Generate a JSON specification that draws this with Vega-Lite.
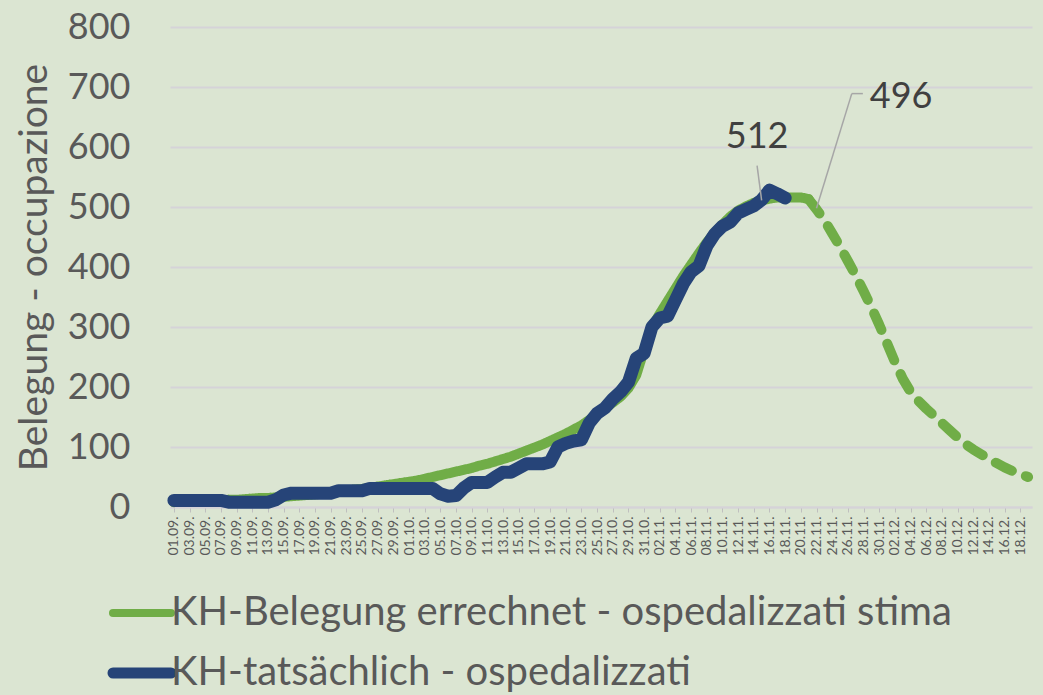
{
  "$schema": "https://vega.github.io/schema/vega-lite/v6.json",
  "autosize": {"type": "none"},
  "padding": {"left": 170, "top": 27, "right": 11, "bottom": 188},
  "width": 862,
  "height": 480,
  "background": "#dbe5d2",
  "config": {
    "font": "Lato",
    "view": {"stroke": null},
    "axis": {"labelFont": "Lato", "titleFont": "Lato"},
    "legend": {"labelFont": "Lato"}
  },
  "datasets": {
    "est": [
      {"d": "2020-09-01", "v": 8, "p": "a"}, {"d": "2020-09-02", "v": 9, "p": "a"}, {"d": "2020-09-03", "v": 9, "p": "a"}, {"d": "2020-09-04", "v": 10, "p": "a"}, {"d": "2020-09-05", "v": 10, "p": "a"},
      {"d": "2020-09-06", "v": 11, "p": "a"}, {"d": "2020-09-07", "v": 11, "p": "a"}, {"d": "2020-09-08", "v": 12, "p": "a"}, {"d": "2020-09-09", "v": 12, "p": "a"}, {"d": "2020-09-10", "v": 13, "p": "a"},
      {"d": "2020-09-11", "v": 14, "p": "a"}, {"d": "2020-09-12", "v": 15, "p": "a"}, {"d": "2020-09-13", "v": 15, "p": "a"}, {"d": "2020-09-14", "v": 16, "p": "a"}, {"d": "2020-09-15", "v": 17, "p": "a"},
      {"d": "2020-09-16", "v": 18, "p": "a"}, {"d": "2020-09-17", "v": 19, "p": "a"}, {"d": "2020-09-18", "v": 20, "p": "a"}, {"d": "2020-09-19", "v": 21, "p": "a"}, {"d": "2020-09-20", "v": 22, "p": "a"},
      {"d": "2020-09-21", "v": 24, "p": "a"}, {"d": "2020-09-22", "v": 25, "p": "a"}, {"d": "2020-09-23", "v": 27, "p": "a"}, {"d": "2020-09-24", "v": 29, "p": "a"}, {"d": "2020-09-25", "v": 30, "p": "a"},
      {"d": "2020-09-26", "v": 32, "p": "a"}, {"d": "2020-09-27", "v": 34, "p": "a"}, {"d": "2020-09-28", "v": 36, "p": "a"}, {"d": "2020-09-29", "v": 38, "p": "a"}, {"d": "2020-09-30", "v": 40, "p": "a"},
      {"d": "2020-10-01", "v": 42, "p": "a"}, {"d": "2020-10-02", "v": 44, "p": "a"}, {"d": "2020-10-03", "v": 47, "p": "a"}, {"d": "2020-10-04", "v": 50, "p": "a"}, {"d": "2020-10-05", "v": 53, "p": "a"},
      {"d": "2020-10-06", "v": 56, "p": "a"}, {"d": "2020-10-07", "v": 59, "p": "a"}, {"d": "2020-10-08", "v": 62, "p": "a"}, {"d": "2020-10-09", "v": 65, "p": "a"}, {"d": "2020-10-10", "v": 69, "p": "a"},
      {"d": "2020-10-11", "v": 72, "p": "a"}, {"d": "2020-10-12", "v": 76, "p": "a"}, {"d": "2020-10-13", "v": 80, "p": "a"}, {"d": "2020-10-14", "v": 84, "p": "a"}, {"d": "2020-10-15", "v": 89, "p": "a"},
      {"d": "2020-10-16", "v": 94, "p": "a"}, {"d": "2020-10-17", "v": 99, "p": "a"}, {"d": "2020-10-18", "v": 104, "p": "a"}, {"d": "2020-10-19", "v": 110, "p": "a"}, {"d": "2020-10-20", "v": 116, "p": "a"},
      {"d": "2020-10-21", "v": 122, "p": "a"}, {"d": "2020-10-22", "v": 129, "p": "a"}, {"d": "2020-10-23", "v": 136, "p": "a"}, {"d": "2020-10-24", "v": 145, "p": "a"}, {"d": "2020-10-25", "v": 154, "p": "a"},
      {"d": "2020-10-26", "v": 164, "p": "a"}, {"d": "2020-10-27", "v": 174, "p": "a"}, {"d": "2020-10-28", "v": 184, "p": "a"}, {"d": "2020-10-29", "v": 198, "p": "a"}, {"d": "2020-10-30", "v": 220, "p": "a"},
      {"d": "2020-10-31", "v": 262, "p": "a"}, {"d": "2020-11-01", "v": 300, "p": "a"}, {"d": "2020-11-02", "v": 322, "p": "a"}, {"d": "2020-11-03", "v": 343, "p": "a"}, {"d": "2020-11-04", "v": 364, "p": "a"},
      {"d": "2020-11-05", "v": 385, "p": "a"}, {"d": "2020-11-06", "v": 404, "p": "a"}, {"d": "2020-11-07", "v": 423, "p": "a"}, {"d": "2020-11-08", "v": 441, "p": "a"}, {"d": "2020-11-09", "v": 457, "p": "a"},
      {"d": "2020-11-10", "v": 471, "p": "a"}, {"d": "2020-11-11", "v": 484, "p": "a"}, {"d": "2020-11-12", "v": 494, "p": "a"}, {"d": "2020-11-13", "v": 501, "p": "a"}, {"d": "2020-11-14", "v": 507, "p": "a"},
      {"d": "2020-11-15", "v": 511, "p": "a"}, {"d": "2020-11-16", "v": 514, "p": "a"}, {"d": "2020-11-17", "v": 516, "p": "a"}, {"d": "2020-11-18", "v": 516, "p": "a"}, {"d": "2020-11-19", "v": 516, "p": "a"},
      {"d": "2020-11-20", "v": 516, "p": "a"}, {"d": "2020-11-21", "v": 513, "p": "a"},
      {"d": "2020-11-21", "v": 513, "p": "b"}, {"d": "2020-11-22", "v": 496, "p": "b"}, {"d": "2020-11-23", "v": 478, "p": "b"}, {"d": "2020-11-24", "v": 456, "p": "b"}, {"d": "2020-11-25", "v": 434, "p": "b"},
      {"d": "2020-11-26", "v": 410, "p": "b"}, {"d": "2020-11-27", "v": 386, "p": "b"}, {"d": "2020-11-28", "v": 360, "p": "b"}, {"d": "2020-11-29", "v": 333, "p": "b"}, {"d": "2020-11-30", "v": 304, "p": "b"},
      {"d": "2020-12-01", "v": 273, "p": "b"}, {"d": "2020-12-02", "v": 242, "p": "b"}, {"d": "2020-12-03", "v": 214, "p": "b"}, {"d": "2020-12-04", "v": 192, "p": "b"}, {"d": "2020-12-05", "v": 177, "p": "b"},
      {"d": "2020-12-06", "v": 164, "p": "b"}, {"d": "2020-12-07", "v": 152, "p": "b"}, {"d": "2020-12-08", "v": 140, "p": "b"}, {"d": "2020-12-09", "v": 128, "p": "b"}, {"d": "2020-12-10", "v": 116, "p": "b"},
      {"d": "2020-12-11", "v": 105, "p": "b"}, {"d": "2020-12-12", "v": 96, "p": "b"}, {"d": "2020-12-13", "v": 88, "p": "b"}, {"d": "2020-12-14", "v": 80, "p": "b"}, {"d": "2020-12-15", "v": 73, "p": "b"},
      {"d": "2020-12-16", "v": 66, "p": "b"}, {"d": "2020-12-17", "v": 60, "p": "b"}, {"d": "2020-12-18", "v": 55, "p": "b"}, {"d": "2020-12-19", "v": 50, "p": "b"}
    ],
    "act": [
      {"d": "2020-09-01", "v": 11}, {"d": "2020-09-02", "v": 11}, {"d": "2020-09-03", "v": 11}, {"d": "2020-09-04", "v": 11}, {"d": "2020-09-05", "v": 11},
      {"d": "2020-09-06", "v": 11}, {"d": "2020-09-07", "v": 11}, {"d": "2020-09-08", "v": 8}, {"d": "2020-09-09", "v": 8}, {"d": "2020-09-10", "v": 8},
      {"d": "2020-09-11", "v": 8}, {"d": "2020-09-12", "v": 8}, {"d": "2020-09-13", "v": 8}, {"d": "2020-09-14", "v": 12}, {"d": "2020-09-15", "v": 20},
      {"d": "2020-09-16", "v": 23}, {"d": "2020-09-17", "v": 23}, {"d": "2020-09-18", "v": 23}, {"d": "2020-09-19", "v": 23}, {"d": "2020-09-20", "v": 23},
      {"d": "2020-09-21", "v": 23}, {"d": "2020-09-22", "v": 27}, {"d": "2020-09-23", "v": 27}, {"d": "2020-09-24", "v": 27}, {"d": "2020-09-25", "v": 27},
      {"d": "2020-09-26", "v": 31}, {"d": "2020-09-27", "v": 31}, {"d": "2020-09-28", "v": 31}, {"d": "2020-09-29", "v": 31}, {"d": "2020-09-30", "v": 31},
      {"d": "2020-10-01", "v": 31}, {"d": "2020-10-02", "v": 31}, {"d": "2020-10-03", "v": 31}, {"d": "2020-10-04", "v": 31}, {"d": "2020-10-05", "v": 22},
      {"d": "2020-10-06", "v": 18}, {"d": "2020-10-07", "v": 19}, {"d": "2020-10-08", "v": 32}, {"d": "2020-10-09", "v": 41}, {"d": "2020-10-10", "v": 41},
      {"d": "2020-10-11", "v": 41}, {"d": "2020-10-12", "v": 50}, {"d": "2020-10-13", "v": 58}, {"d": "2020-10-14", "v": 58}, {"d": "2020-10-15", "v": 65},
      {"d": "2020-10-16", "v": 72}, {"d": "2020-10-17", "v": 72}, {"d": "2020-10-18", "v": 72}, {"d": "2020-10-19", "v": 75}, {"d": "2020-10-20", "v": 100},
      {"d": "2020-10-21", "v": 106}, {"d": "2020-10-22", "v": 110}, {"d": "2020-10-23", "v": 112}, {"d": "2020-10-24", "v": 140}, {"d": "2020-10-25", "v": 156},
      {"d": "2020-10-26", "v": 165}, {"d": "2020-10-27", "v": 180}, {"d": "2020-10-28", "v": 192}, {"d": "2020-10-29", "v": 208}, {"d": "2020-10-30", "v": 248},
      {"d": "2020-10-31", "v": 256}, {"d": "2020-11-01", "v": 300}, {"d": "2020-11-02", "v": 315}, {"d": "2020-11-03", "v": 318}, {"d": "2020-11-04", "v": 345},
      {"d": "2020-11-05", "v": 372}, {"d": "2020-11-06", "v": 392}, {"d": "2020-11-07", "v": 402}, {"d": "2020-11-08", "v": 435}, {"d": "2020-11-09", "v": 455},
      {"d": "2020-11-10", "v": 468}, {"d": "2020-11-11", "v": 475}, {"d": "2020-11-12", "v": 490}, {"d": "2020-11-13", "v": 496}, {"d": "2020-11-14", "v": 502},
      {"d": "2020-11-15", "v": 512}, {"d": "2020-11-16", "v": 528}, {"d": "2020-11-17", "v": 522}, {"d": "2020-11-18", "v": 515}
    ],
    "lead": [
      {"a": "2020-11-14T10:00:00Z", "ya": 569, "b": "2020-11-15T00:00:00Z", "yb": 511},
      {"a": "2020-11-22T00:00:00Z", "ya": 498, "b": "2020-11-26T12:00:00Z", "yb": 689},
      {"a": "2020-11-26T12:00:00Z", "ya": 689, "b": "2020-11-27T22:00:00Z", "yb": 689}
    ],
    "lab": [
      {"d": "2020-11-14T10:00:00Z", "v": 617, "t": "512"},
      {"d": "2020-12-02T19:00:00Z", "v": 684, "t": "496"}
    ]
  },
  "encoding": {
    "x": {
      "field": "d",
      "type": "temporal",
      "scale": {"type": "utc", "domain": [1598875200000, 1608379200000], "nice": false},
      "axis": {
        "title": null,
        "grid": false,
        "values": [1598918400000, 1599091200000, 1599264000000, 1599436800000, 1599609600000, 1599782400000, 1599955200000, 1600128000000, 1600300800000, 1600473600000, 1600646400000, 1600819200000, 1600992000000, 1601164800000, 1601337600000, 1601510400000, 1601683200000, 1601856000000, 1602028800000, 1602201600000, 1602374400000, 1602547200000, 1602720000000, 1602892800000, 1603065600000, 1603238400000, 1603411200000, 1603584000000, 1603756800000, 1603929600000, 1604102400000, 1604275200000, 1604448000000, 1604620800000, 1604793600000, 1604966400000, 1605139200000, 1605312000000, 1605484800000, 1605657600000, 1605830400000, 1606003200000, 1606176000000, 1606348800000, 1606521600000, 1606694400000, 1606867200000, 1607040000000, 1607212800000, 1607385600000, 1607558400000, 1607731200000, 1607904000000, 1608076800000, 1608249600000],
        "labelExpr": "utcFormat(datum.value, '%d.%m.')",
        "labelAngle": 270,
        "labelFontSize": 14,
        "labelColor": "#595959",
        "labelPadding": 4,
        "labelOverlap": false,
        "labelFlush": false,
        "tickColor": "#bfbfbf",
        "tickSize": 5,
        "tickWidth": 1,
        "domainColor": "#d5d3d8",
        "domainWidth": 2
      }
    },
    "y": {
      "field": "v",
      "type": "quantitative",
      "scale": {"domain": [0, 800], "nice": false},
      "axis": {
        "title": "Belegung - occupazione",
        "values": [0, 100, 200, 300, 400, 500, 600, 700, 800],
        "grid": true,
        "gridColor": "#d5d3d8",
        "gridWidth": 2,
        "domain": false,
        "ticks": false,
        "labelPadding": 40,
        "labelFontSize": 36,
        "labelColor": "#595959",
        "titleFontSize": 39,
        "titleFontWeight": "normal",
        "titleColor": "#595959",
        "titlePadding": 13
      }
    }
  },
  "layer": [
    {
      "data": {"name": "est"},
      "mark": {"type": "line", "strokeWidth": 10, "strokeCap": "round", "strokeJoin": "round"},
      "encoding": {
        "color": {
          "datum": "KH-Belegung errechnet - ospedalizzati stima",
          "type": "nominal",
          "scale": {"domain": ["KH-Belegung errechnet - ospedalizzati stima", "KH-tatsächlich - ospedalizzati"], "range": ["#70ad47", "#264478"]},
          "legend": {
            "title": null,
            "orient": "none",
            "legendX": -48,
            "legendY": 566,
            "direction": "vertical",
            "symbolType": "stroke",
            "symbolSize": 3364,
            "symbolStrokeWidth": 9,
            "labelFontSize": 40,
            "labelColor": "#595959",
            "labelOffset": 9,
            "labelLimit": 1000,
            "rowPadding": 18,
            "padding": 0,
            "encode": {"symbols": {"update": {"strokeWidth": {"signal": "datum.value === 'KH-tatsächlich - ospedalizzati' ? 11 : 8"}, "strokeCap": {"value": "round"}}}}
          }
        },
        "strokeDash": {
          "field": "p",
          "type": "nominal",
          "scale": {"domain": ["a", "b"], "range": [[1, 0], [18, 15]]},
          "legend": null
        }
      }
    },
    {
      "data": {"name": "act"},
      "mark": {"type": "line", "strokeWidth": 13, "strokeCap": "round", "strokeJoin": "round"},
      "encoding": {
        "color": {"datum": "KH-tatsächlich - ospedalizzati", "type": "nominal"}
      }
    },
    {
      "data": {"name": "lead"},
      "mark": {"type": "rule", "color": "#a6a6a6", "strokeWidth": 1.5},
      "encoding": {
        "x": {"field": "a", "type": "temporal"},
        "x2": {"field": "b"},
        "y": {"field": "ya", "type": "quantitative"},
        "y2": {"field": "yb"}
      }
    },
    {
      "data": {"name": "lab"},
      "mark": {"type": "text", "fontSize": 36, "color": "#404040", "align": "center", "baseline": "middle"},
      "encoding": {
        "text": {"field": "t"}
      }
    }
  ]
}
